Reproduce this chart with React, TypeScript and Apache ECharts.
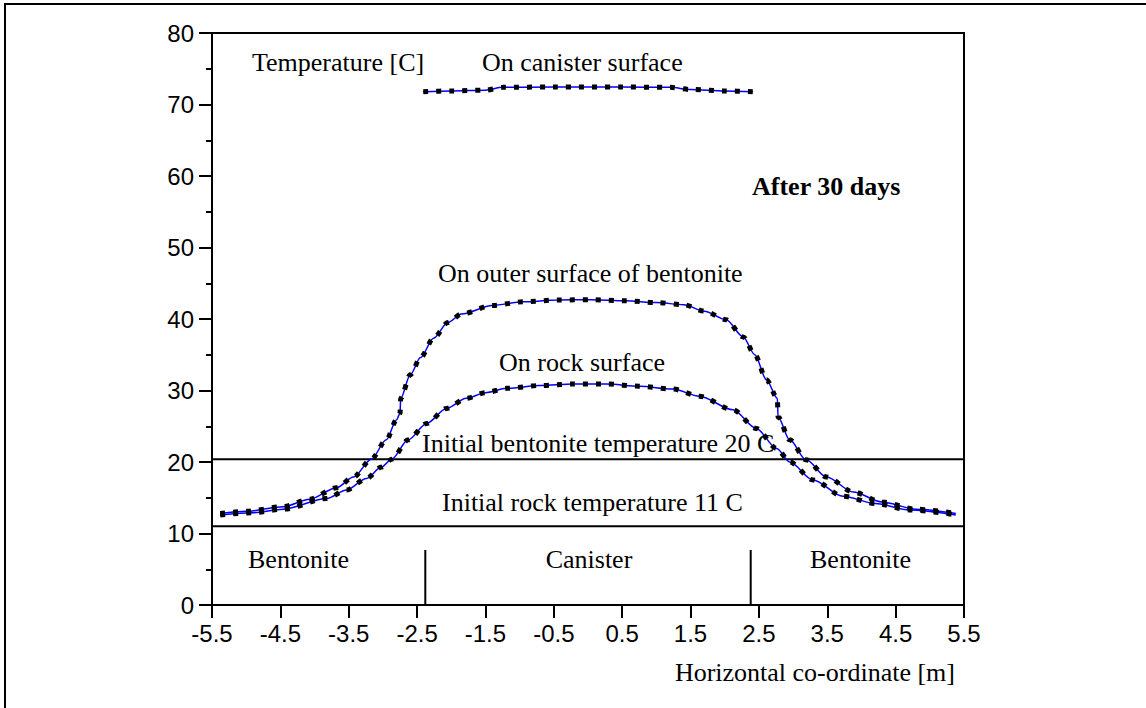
import React, { useEffect, useRef } from "react";
import * as echarts from "echarts";

const X_TICKS = [-5.5, -4.5, -3.5, -2.5, -1.5, -0.5, 0.5, 1.5, 2.5, 3.5, 4.5, 5.5];

const canisterX = [-2.41, -2.0, -1.5, -1.25, -0.5, 0.5, 1.2, 1.5, 2.0, 2.41];
const canisterY = [71.8, 71.9, 72.0, 72.4, 72.45, 72.45, 72.4, 72.1, 71.9, 71.8];

const outerX = [-5.38, -5.0, -4.46, -4.07, -3.68, -3.43, -3.17, -2.95, -2.8, -2.75, -2.74, -2.6, -2.45, -2.26, -2.05, -1.85, -1.4, -0.95, -0.45, 0.05, 0.55, 1.0, 1.4, 1.7, 2.02, 2.27, 2.44, 2.61, 2.77, 2.78, 2.95, 3.19, 3.49, 3.88, 4.3, 4.8, 5.38];
const outerY = [12.8, 13.1, 13.75, 14.8, 16.4, 17.9, 20.4, 23.1, 25.9, 26.8, 28.9, 32.2, 34.6, 37.3, 39.5, 40.7, 41.9, 42.4, 42.65, 42.7, 42.55, 42.3, 42.0, 41.1, 39.9, 37.5, 35.0, 31.5, 28.9, 26.3, 23.1, 20.3, 17.9, 15.8, 14.4, 13.4, 12.8];

const rockX = [-5.38, -4.9, -4.46, -3.82, -3.53, -3.24, -3.02, -2.87, -2.63, -2.36, -2.07, -1.78, -1.5, -1.19, -0.7, -0.22, 0.27, 0.75, 1.24, 1.63, 2.12, 2.46, 2.76, 2.95, 3.29, 3.73, 4.2, 4.7, 5.38];
const rockY = [12.6, 12.9, 13.4, 14.9, 16.1, 17.7, 19.3, 20.4, 23.1, 25.4, 27.5, 28.9, 29.7, 30.3, 30.7, 30.9, 30.9, 30.6, 30.2, 29.2, 27.3, 24.7, 21.9, 20.0, 17.5, 15.2, 14.2, 13.3, 12.6];

const initialBentonite = 20.4;
const initialRock = 11.0;
const canisterEdges = [-2.38, 2.38];
const edgeHeight = 7.7;

const zip = (xs: number[], ys: number[]) => xs.map((x, i) => [x, ys[i]]);

export default function App() {
  const ref = useRef<HTMLDivElement>(null);
  useEffect(() => {
    if (!ref.current) return;
    const chart = echarts.init(ref.current, null, { renderer: "svg" });
    const serif = "'Liberation Serif', 'Times New Roman', serif";
    const sans = "'Liberation Sans', Arial, sans-serif";
    const curves = [zip(canisterX, canisterY), zip(outerX, outerY), zip(rockX, rockY)];
    const series: any[] = [];
    const blackLine = (data: number[][]) => ({
      type: "line", data, symbol: "none", silent: true,
      lineStyle: { color: "#000", width: 2 },
    });
    series.push(blackLine([[-5.5, initialBentonite], [5.5, initialBentonite]]));
    series.push(blackLine([[-5.5, initialRock], [5.5, initialRock]]));
    canisterEdges.forEach((e) => series.push(blackLine([[e, 0], [e, edgeHeight]])));
    curves.forEach((d) => {
      series.push({
        type: "line", data: d, symbol: "none", smooth: 0.3, smoothMonotone: "x",
        lineStyle: { color: "#0000ff", width: 1.5 },
      });
      series.push({
        type: "line", data: d, symbol: "none", smooth: 0.3, smoothMonotone: "x",
        lineStyle: { color: "#000", width: 5, type: [5, 8], cap: "butt" },
      });
    });
    const txt = (text: string, x: number, y: number, align = "left", bold = false) => ({
      type: "text", x, y, silent: true,
      style: {
        text, fill: "#000", font: `${bold ? "bold " : ""}26px ${serif}`,
        align, verticalAlign: "middle",
      },
    });
    chart.setOption({
      animation: false,
      backgroundColor: "#fff",
      grid: {
        left: 212, right: 182, top: 33, bottom: 103,
        show: true, borderColor: "#000", borderWidth: 2,
      },
      xAxis: {
        type: "value", min: -5.5, max: 5.5,
        axisLine: { show: true, onZero: false, lineStyle: { color: "#000", width: 2 } },
        axisTick: { show: true, customValues: X_TICKS, length: 13, lineStyle: { color: "#000", width: 2 } },
        axisLabel: {
          customValues: X_TICKS, formatter: (v: number) => v.toFixed(1),
          fontSize: 24, color: "#000", fontFamily: sans, margin: 16,
        },
        splitLine: { show: false },
      },
      yAxis: {
        type: "value", min: 0, max: 80, interval: 10,
        axisLine: { show: true, onZero: false, lineStyle: { color: "#000", width: 2 } },
        axisTick: { show: true, length: 13, lineStyle: { color: "#000", width: 2 } },
        minorTick: { show: true, splitNumber: 2, length: 6, lineStyle: { color: "#000", width: 2 } },
        axisLabel: { fontSize: 24, color: "#000", fontFamily: sans, margin: 18 },
        splitLine: { show: false },
        minorSplitLine: { show: false },
      },
      series,
      graphic: [
        {
          type: "rect", silent: true,
          shape: { x: 5, y: 4, width: 1180, height: 740 },
          style: { fill: "none", stroke: "#000", lineWidth: 2 },
        },
        txt("Temperature [C]", 252, 62),
        txt("On canister surface", 482, 62),
        txt("After 30 days", 752, 186, "left", true),
        txt("On outer surface of bentonite", 438, 273),
        txt("On rock surface", 499, 362),
        txt("Initial bentonite temperature 20 C", 422, 443),
        txt("Initial rock temperature 11 C", 442, 502),
        txt("Bentonite", 248, 559),
        txt("Canister", 589, 559, "center"),
        txt("Bentonite", 810, 559),
        txt("Horizontal co-ordinate [m]", 955, 672, "right"),
      ],
    });
    return () => chart.dispose();
  }, []);
  return (
    <div
      ref={ref}
      style={{ position: "fixed", left: 0, top: 0, width: 1146, height: 708 }}
    />
  );
}
